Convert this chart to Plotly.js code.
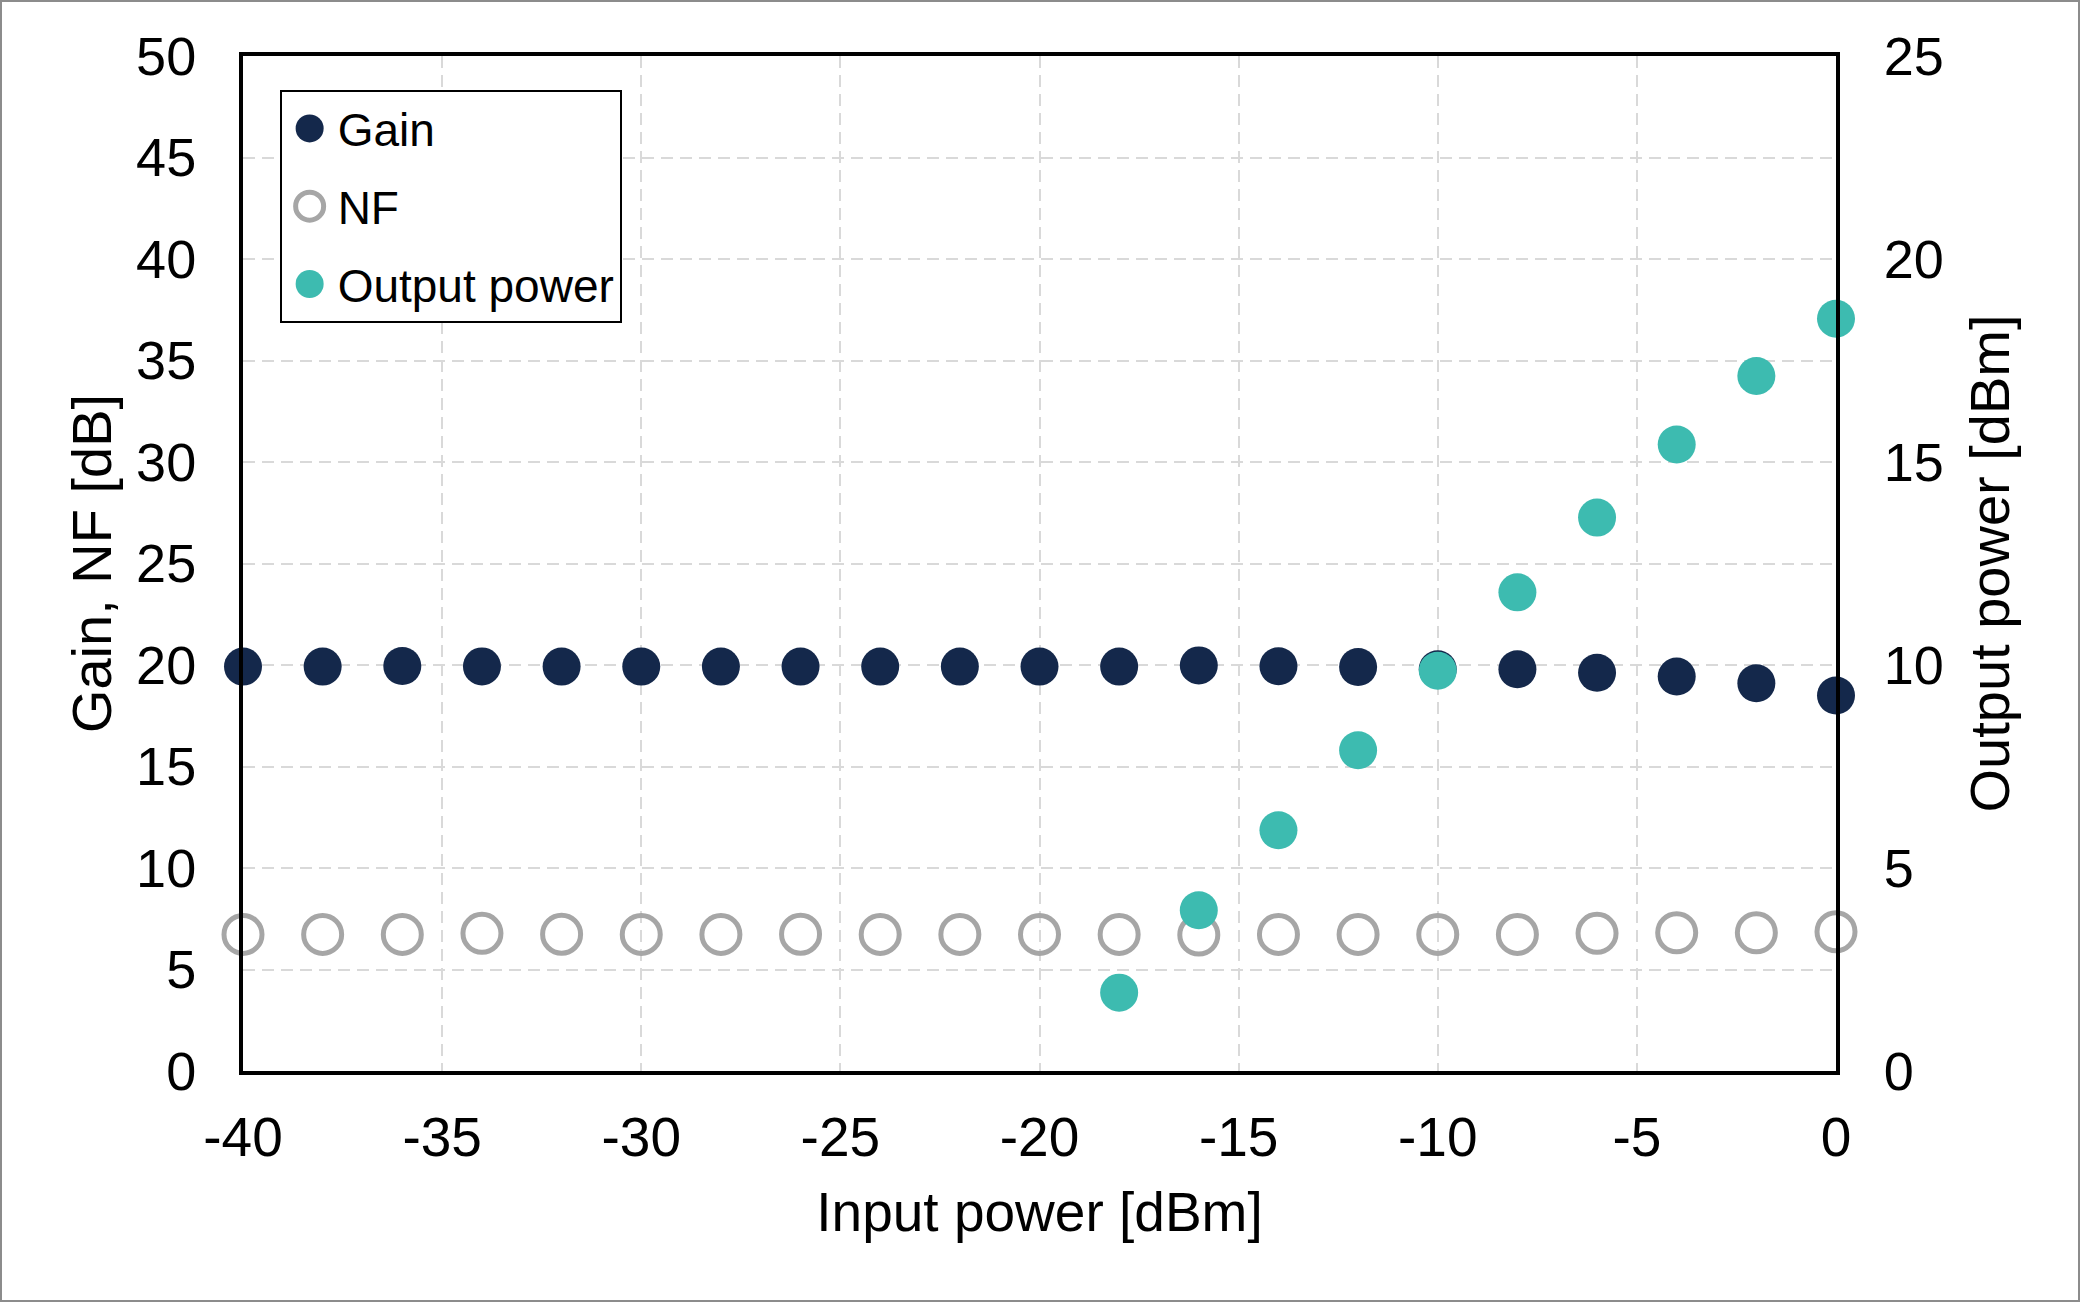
<!DOCTYPE html>
<html>
<head>
<meta charset="utf-8">
<script src="https://cdn.plot.ly/plotly-3.0.1.min.js"></script>
<style>
  html, body { margin: 0; padding: 0; background: #fff; }
  #wrap { position: relative; width: 2080px; height: 1302px; }
  #chart { width: 2080px; height: 1302px; }
  #frame { position: absolute; left: 0; top: 0; width: 2080px; height: 1302px; box-sizing: border-box; border: 2px solid #8c8c8c; pointer-events: none; }
</style>
</head>
<body>
<div id="wrap"><div id="chart"></div><div id="frame"></div></div>
<script>
// Input power [dBm]
const inputPower = [-40, -38, -36, -34, -32, -30, -28, -26, -24, -22, -20, -18, -16, -14, -12, -10, -8, -6, -4, -2, 0];
// Gain [dB]
const gain = [19.92, 19.92, 19.95, 19.93, 19.92, 19.92, 19.92, 19.92, 19.92, 19.92, 19.92, 19.92, 19.98, 19.94, 19.90, 19.79, 19.79, 19.62, 19.43, 19.10, 18.50];
// NF [dB]
const nf = [6.73, 6.73, 6.73, 6.78, 6.74, 6.73, 6.73, 6.74, 6.73, 6.73, 6.73, 6.73, 6.70, 6.73, 6.73, 6.73, 6.73, 6.78, 6.81, 6.81, 6.86];
// Output power [dBm] (measured from -18 dBm input)
const outInput = [-18, -16, -14, -12, -10, -8, -6, -4, -2, 0];
const outputPower = [1.93, 3.96, 5.93, 7.90, 9.86, 11.79, 13.63, 15.43, 17.12, 18.53];

const xTicks = [-40, -35, -30, -25, -20, -15, -10, -5, 0];

const FONT = '"Liberation Sans", Arial, sans-serif';
const NAVY = '#14284B', TEAL = '#3DBBB0', GRAY = '#A6A6A6';

const traces = [
  { x: inputPower, y: gain, name: 'Gain', type: 'scatter', mode: 'markers', legendgroup: 'g1',
    marker: { size: 38, color: NAVY }, cliponaxis: false },
  { x: inputPower, y: nf, name: 'NF', type: 'scatter', mode: 'markers', legendgroup: 'g2',
    marker: { size: 38, symbol: 'circle-open', color: GRAY, line: { color: GRAY, width: 5 } }, cliponaxis: false },
  { x: outInput, y: outputPower, name: 'Output power', type: 'scatter', mode: 'markers', legendgroup: 'g3',
    yaxis: 'y2', marker: { size: 38, color: TEAL }, cliponaxis: false }
];

const grid = { showgrid: true, gridcolor: '#D9D9D9', gridwidth: 2, griddash: '12px,7px' };

const layout = {
  width: 2080, height: 1302,
  margin: { l: 243, r: 244, t: 56, b: 231 },
  paper_bgcolor: '#fff', plot_bgcolor: '#fff',
  font: { family: FONT, color: '#000' },
  showlegend: true,
  legend: {
    x: 0.023, y: 0.9665, xanchor: 'left', yanchor: 'top',
    bordercolor: '#000', borderwidth: 2, bgcolor: '#fff',
    font: { family: FONT, size: 46, color: '#000' },
    traceorder: 'grouped', tracegroupgap: 15, itemsizing: 'trace', itemwidth: 46
  },
  xaxis: Object.assign({
    range: [-40, 0], tickvals: xTicks, ticktext: xTicks.map(String),
    showline: true, linecolor: '#000', linewidth: 4, mirror: true,
    zeroline: false, ticks: '', ticklabelstandoff: 15,
    tickfont: { family: FONT, size: 55, color: '#000' },
    title: { text: 'Input power [dBm]', font: { family: FONT, size: 55, color: '#000' }, standoff: 26 }
  }, grid),
  yaxis: Object.assign({
    range: [0, 50], dtick: 5, tick0: 0,
    showline: true, linecolor: '#000', linewidth: 4,
    zeroline: false, ticks: '', ticklabelstandoff: 32,
    tickfont: { family: FONT, size: 54, color: '#000' },
    title: { text: 'Gain, NF [dB]', font: { family: FONT, size: 56, color: '#000' }, standoff: 8 }
  }, grid),
  yaxis2: {
    range: [0, 25], dtick: 5, tick0: 0, overlaying: 'y', side: 'right',
    showgrid: false, zeroline: false,
    showline: true, linecolor: '#000', linewidth: 4,
    ticks: '', ticklabelstandoff: 33,
    tickfont: { family: FONT, size: 54, color: '#000' },
    title: { text: 'Output power [dBm]', font: { family: FONT, size: 56, color: '#000' }, standoff: 28 }
  }
};

function enlargeLegendMarkers() {
  const r = 14;
  const d = 'M' + r + ',0A' + r + ',' + r + ' 0 1,1 0,-' + r + 'A' + r + ',' + r + ' 0 0,1 ' + r + ',0Z';
  document.querySelectorAll('#chart .legend .legendpoints path.scatterpts').forEach(p => {
    p.setAttribute('d', d);
  });
}

Plotly.newPlot('chart', traces, layout, { staticPlot: true, displayModeBar: false }).then(enlargeLegendMarkers);
</script>
</body>
</html>
